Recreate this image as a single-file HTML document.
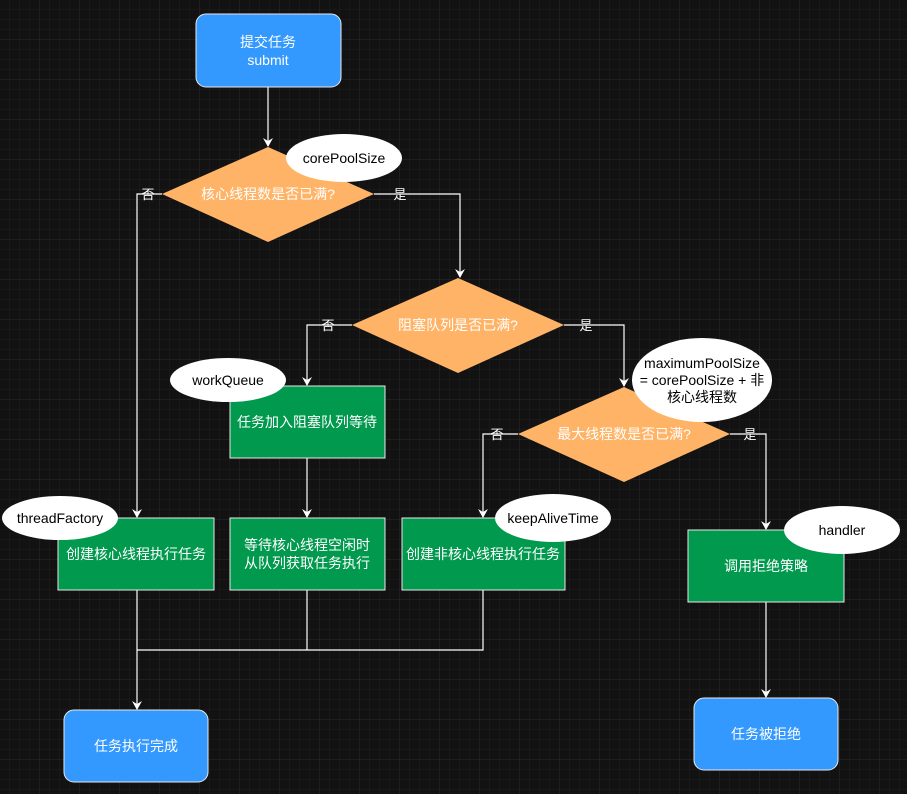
<!DOCTYPE html>
<html><head><meta charset="utf-8"><style>
html,body{margin:0;padding:0;background:#121212;}
svg{display:block;}
text{font-family:"Liberation Sans","Noto Sans CJK SC",sans-serif;font-size:14px;}
</style></head><body>
<svg width="907" height="794" viewBox="0 0 907 794" xmlns="http://www.w3.org/2000/svg">
<defs>
<pattern id="g" width="10" height="10" patternUnits="userSpaceOnUse"><path d="M10 0V10H0" fill="none" stroke="#1f1f1f" stroke-width="1"/></pattern>
<pattern id="G" width="40" height="40" patternUnits="userSpaceOnUse"><rect width="40" height="40" fill="url(#g)"/><path d="M40 0V40H0" fill="none" stroke="#2c2c2c" stroke-width="1"/></pattern>
<marker id="a" markerWidth="10" markerHeight="10" refX="8" refY="5" orient="auto" markerUnits="userSpaceOnUse"><path d="M0 0L9 5L0 10L3 5Z" fill="#fff"/></marker>
</defs>
<rect width="907" height="794" fill="#121212"/>
<rect width="907" height="794" fill="url(#G)"/>
<g fill="none" stroke="#fff" stroke-width="1.2">
<path d="M268 87V146" marker-end="url(#a)"/>
<path d="M162 194H137V517" marker-end="url(#a)"/>
<path d="M374 194H460V277" marker-end="url(#a)"/>
<path d="M352 325H307V385" marker-end="url(#a)"/>
<path d="M564 325H624V386" marker-end="url(#a)"/>
<path d="M518 434H483V517" marker-end="url(#a)"/>
<path d="M730 434H766V529" marker-end="url(#a)"/>
<path d="M307 458V517" marker-end="url(#a)"/>
<path d="M307 590V650M483 590V650H137"/>
<path d="M137 590V709" marker-end="url(#a)"/>
<path d="M766 602V697" marker-end="url(#a)"/>
</g>
<g stroke="#e8e8e8" stroke-width="1">
<rect x="196" y="14" width="145" height="73" rx="10" fill="#3399ff"/>
<rect x="64" y="710" width="144" height="72" rx="10" fill="#3399ff"/>
<rect x="694" y="698" width="144" height="72" rx="10" fill="#3399ff"/>
<rect x="230" y="386" width="155" height="72" fill="#00994d"/>
<rect x="58" y="518" width="156" height="72" fill="#00994d"/>
<rect x="230" y="518" width="155" height="72" fill="#00994d"/>
<rect x="402" y="518" width="163" height="72" fill="#00994d"/>
<rect x="688" y="530" width="156" height="72" fill="#00994d"/>
</g>
<polygon points="268,147 374,194 268,242 162,194" fill="#ffb366"/>
<polygon points="458,278 564,325 458,373 352,325" fill="#ffb366"/>
<polygon points="624,387 730,434 624,482 518,434" fill="#ffb366"/>
<g fill="#fff">
<ellipse cx="344" cy="158" rx="58" ry="24"/>
<ellipse cx="702" cy="380" rx="70" ry="42"/>
<ellipse cx="228" cy="380" rx="58" ry="22"/>
<ellipse cx="60" cy="518" rx="58" ry="22"/>
<ellipse cx="553" cy="518" rx="58" ry="24"/>
<ellipse cx="842" cy="530" rx="58" ry="24"/>
</g>
<g fill="#fff" text-anchor="middle">
<text x="268" y="47">提交任务</text>
<text x="268" y="65">submit</text>
<text x="268" y="199">核心线程数是否已满?</text>
<text x="458" y="330">阻塞队列是否已满?</text>
<text x="624" y="439">最大线程数是否已满?</text>
<text x="307" y="427">任务加入阻塞队列等待</text>
<text x="136" y="559">创建核心线程执行任务</text>
<text x="307" y="550">等待核心线程空闲时</text>
<text x="307" y="568">从队列获取任务执行</text>
<text x="483" y="559">创建非核心线程执行任务</text>
<text x="766" y="571">调用拒绝策略</text>
<text x="136" y="751">任务执行完成</text>
<text x="766" y="739">任务被拒绝</text>
<g font-size="13"><text x="148" y="199" style="font-size:13px">否</text>
<text x="400" y="199" style="font-size:13px">是</text>
<text x="328" y="330" style="font-size:13px">否</text>
<text x="586" y="330" style="font-size:13px">是</text>
<text x="497" y="439" style="font-size:13px">否</text>
<text x="750" y="439" style="font-size:13px">是</text></g>
</g>
<g fill="#000" text-anchor="middle">
<text x="344" y="163">corePoolSize</text>
<text x="702" y="368">maximumPoolSize</text>
<text x="702" y="385">= corePoolSize + 非</text>
<text x="702" y="402">核心线程数</text>
<text x="228" y="385">workQueue</text>
<text x="60" y="523">threadFactory</text>
<text x="553" y="523">keepAliveTime</text>
<text x="842" y="535">handler</text>
</g>
</svg>
</body></html>
